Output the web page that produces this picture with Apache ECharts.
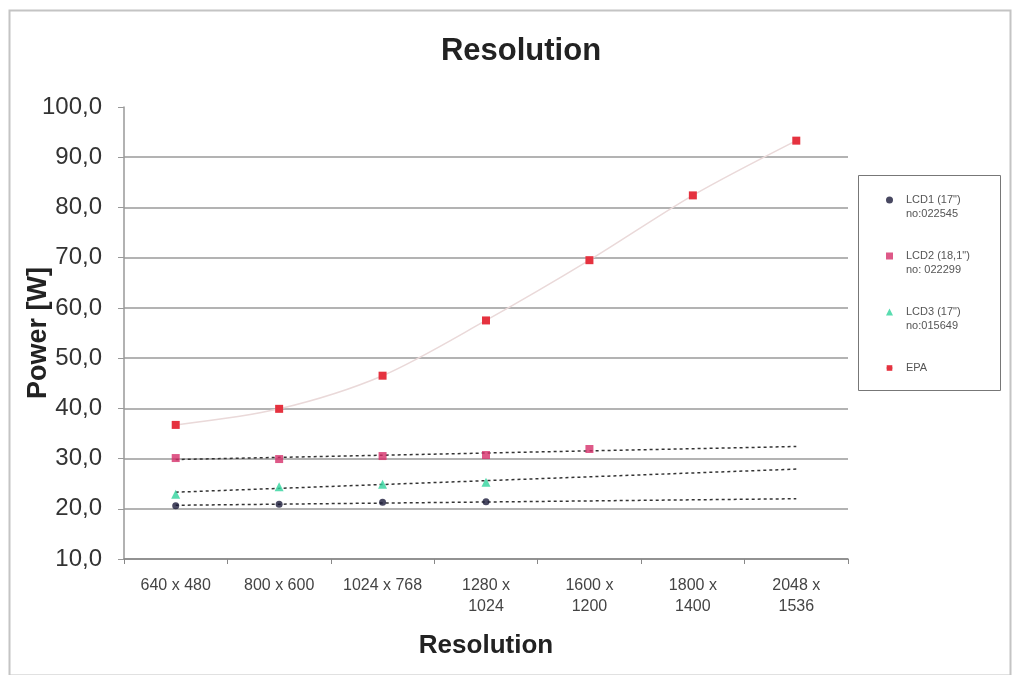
<!DOCTYPE html>
<html>
<head>
<meta charset="utf-8">
<script src="https://cdn.jsdelivr.net/npm/echarts@6/dist/echarts.min.js"></script>
<style>
html,body{margin:0;padding:0;background:#fff;}
#chart{width:1015px;height:675px;}
</style>
</head>
<body>
<div id="chart"></div>
<script>
const categories = ['640 x 480', '800 x 600', '1024 x 768', '1280 x\n1024', '1600 x\n1200', '1800 x\n1400', '2048 x\n1536'];
const yTicks = [10, 20, 30, 40, 50, 60, 70, 80, 90, 100];
const lcd1 = [20.6, 20.9, 21.3, 21.4, null, null, null];
const lcd2 = [30.1, 29.9, 30.5, 30.7, 31.9, null, null];
const lcd3 = [22.9, 24.4, 24.9, 25.3, null, null, null];
const epa = [36.7, 39.9, 46.5, 57.5, 69.5, 82.4, 93.3];
// trendline endpoints (first and last category)
const lcd1Trend = [20.7, 22.0];
const lcd2Trend = [29.8, 32.4];
const lcd3Trend = [23.3, 27.9];
const seriesNames = ['LCD1 (17")', 'LCD2 (18,1")', 'LCD3 (17")', 'EPA'];
const legendSecondLine = ['no:022545', 'no: 022299', 'no:015649', ' '];

const chart = echarts.init(document.getElementById('chart'));
const first = categories[0], last = categories[categories.length - 1];
function trend(name, v) {
  return {
    name: name, type: 'line', data: [[first, v[0]], [last, v[1]]],
    symbol: 'none', silent: true, z: 1,
    lineStyle: { color: '#333', width: 1.5, type: [3, 3] }
  };
}
const gridColors = yTicks.map(t => t === yTicks[yTicks.length - 1] ? 'rgba(0,0,0,0)' : '#9a9a9a');

chart.setOption({
  animation: false,
  backgroundColor: '#fff',
  title: {
    text: 'Resolution', left: 516, top: 31, textAlign: 'center',
    textStyle: { fontFamily: 'Liberation Sans, Arial', fontSize: 31, fontWeight: 'bold', color: '#222' }
  },
  graphic: [
    { type: 'rect', left: 7, top: 8, shape: { width: 1001, height: 665 }, style: { fill: 'none', stroke: '#c4c4c4', lineWidth: 2 }, z: -1 },
    { type: 'rect', left: 858, top: 175, shape: { width: 142, height: 215 }, style: { fill: '#fff', stroke: '#777', lineWidth: 1 }, z: 0 }
  ],
  legend: {
    data: seriesNames,
    orient: 'vertical', left: 880, top: 174,
    itemWidth: 7, itemHeight: 7, itemGap: 14,
    formatter: function (name) {
      const i = seriesNames.indexOf(name);
      return ' \n' + name + '\n' + legendSecondLine[i];
    },
    textStyle: { fontFamily: 'Liberation Sans, Arial', fontSize: 11, lineHeight: 14, color: '#555', padding: [0, 0, 0, 8] },
    z: 5
  },
  grid: { left: 124, right: 167, top: 107, bottom: 116, containLabel: false, outerBoundsMode: 'none' },
  xAxis: {
    type: 'category', data: categories, boundaryGap: true,
    name: 'Resolution', nameLocation: 'middle', nameGap: 74, nameMoveOverlap: false,
    nameTextStyle: { fontFamily: 'Liberation Sans, Arial', fontSize: 26, fontWeight: 'bold', color: '#222' },
    axisLine: { lineStyle: { color: '#888', width: 1.5 } },
    axisTick: { show: true, length: 5, alignWithLabel: false, lineStyle: { color: '#888' } },
    axisLabel: { interval: 0, margin: 16, fontFamily: 'Liberation Sans, Arial', fontSize: 16, lineHeight: 21, color: '#444' },
    splitLine: { show: false }
  },
  yAxis: {
    type: 'value', min: 10, max: 100, interval: 10,
    name: 'Power [W]', nameLocation: 'middle', nameGap: 72, nameRotate: 90, nameMoveOverlap: false,
    nameTextStyle: { fontFamily: 'Liberation Sans, Arial', fontSize: 27, fontWeight: 'bold', color: '#222' },
    axisLine: { show: true, lineStyle: { color: '#999', width: 1.5 } },
    axisTick: { show: true, length: 6, lineStyle: { color: '#999' } },
    axisLabel: {
      margin: 22, fontFamily: 'Liberation Sans, Arial', fontSize: 24, color: '#333',
      formatter: v => v.toFixed(1).replace('.', ',')
    },
    splitLine: { show: true, lineStyle: { color: gridColors, width: 1.5 } }
  },
  series: [
    trend('t1', lcd1Trend), trend('t2', lcd2Trend), trend('t3', lcd3Trend),
    { name: seriesNames[0], type: 'scatter', data: lcd1, symbol: 'circle', symbolSize: 7, itemStyle: { color: '#1a1a3a' }, z: 3 },
    { name: seriesNames[1], type: 'scatter', data: lcd2, symbol: 'rect', symbolSize: 8, itemStyle: { color: '#d6306a' }, z: 3 },
    { name: seriesNames[2], type: 'scatter', data: lcd3, symbol: 'triangle', symbolSize: 9, itemStyle: { color: '#2fd39c' }, z: 3 },
    { name: seriesNames[3], type: 'line', data: epa, smooth: 0.3, symbol: 'rect', symbolSize: 8, showSymbol: true,
      itemStyle: { color: '#e5323f' }, lineStyle: { color: '#ead9d9', width: 1.5 }, z: 2 }
  ]
});
</script>
</body>
</html>
